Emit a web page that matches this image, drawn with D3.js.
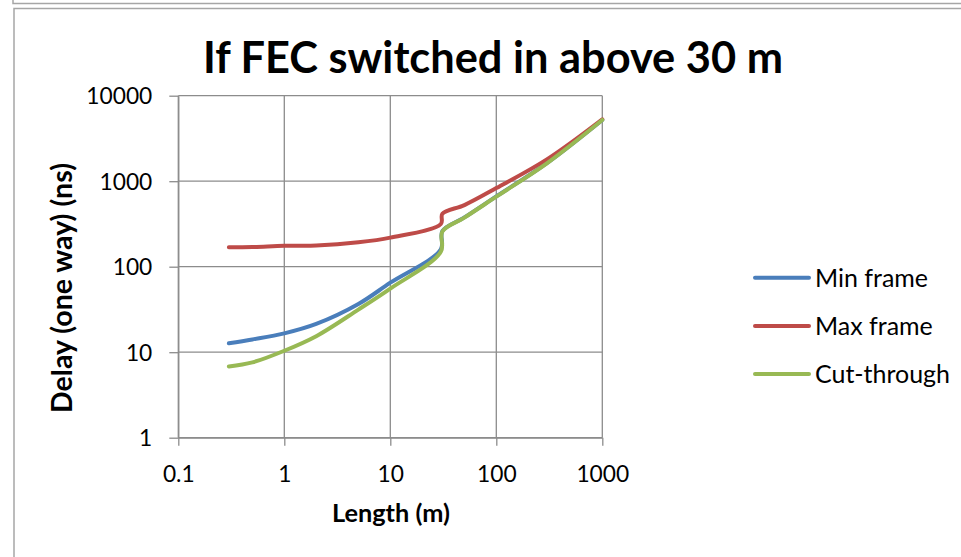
<!DOCTYPE html>
<html>
<head>
<meta charset="utf-8">
<script src="https://cdn.jsdelivr.net/npm/d3@7"></script>
<style>
  html, body { margin: 0; padding: 0; background: #fff; }
  svg { display: block; }
  text { font-family: Lato, "Open Sans", sans-serif; fill: #000; }
</style>
</head>
<body>
<svg id="chart" width="961" height="557"></svg>
<script>
// Cable length (m) at each sample
const lengths = [0.3, 0.5, 1, 2, 5, 10, 30, 31, 50, 100, 300, 1000];

// One-way delay (ns) per frame mode
const minFrame   = [12.7, 14.1, 16.6, 21.4, 36.6, 65, 160, 261, 377, 664, 1625, 5200];
const maxFrame   = [169, 170, 176, 177, 193, 219, 316, 415, 525, 830, 1800, 5300];
const cutThrough = [6.8, 7.6, 10.4, 15.4, 31.5, 55.5, 150, 258, 375, 660, 1620, 5200];

const seriesNames  = ["Min frame", "Max frame", "Cut-through"];
const seriesColors = ["#4A7EBB", "#BE4B48", "#98B954"];

const xTicks = [0.1, 1, 10, 100, 1000];
const yTicks = [1, 10, 100, 1000, 10000];
const xTickLabels = ["0.1", "1", "10", "100", "1000"];
const yTickLabels = ["1", "10", "100", "1000", "10000"];

const titleText = "If FEC switched in above 30 m";
const xTitle = "Length (m)";
const yTitle = "Delay (one way) (ns)";

const series = [minFrame, maxFrame, cutThrough].map((vals, i) => ({
  name: seriesNames[i],
  color: seriesColors[i],
  points: lengths.map((l, j) => [l, vals[j]])
}));

const svg = d3.select("#chart");
const plot = { left: 178.3, right: 602.3, top: 95.7, bottom: 437.7 };
const grey = "#8c8c8c";

const x = d3.scaleLog().domain([0.1, 1000]).range([plot.left, plot.right]);
const y = d3.scaleLog().domain([1, 10000]).range([plot.bottom, plot.top]);

// grow or shrink a text element's font size until it spans the given width
function fitWidth(sel, width) {
  const node = sel.node();
  let fs = parseFloat(sel.attr("font-size"));
  for (let k = 0; k < 3; k++) {
    const w = node.getComputedTextLength();
    if (w > 0) { fs = fs * width / w; sel.attr("font-size", fs.toFixed(2)); }
  }
  return fs;
}

// outer chart frame
svg.append("path")
  .attr("d", "M13,0 V3.5 H961")
  .attr("fill", "none").attr("stroke", "#a6a6a6").attr("stroke-width", 1.5);
svg.append("path")
  .attr("d", "M961,8.5 H14 V557")
  .attr("fill", "none").attr("stroke", "#a6a6a6").attr("stroke-width", 1.5);

// grid
const grid = svg.append("g").attr("stroke", grey).attr("stroke-width", 1.3);
grid.selectAll("line.gx").data(xTicks).join("line")
  .attr("x1", d => x(d)).attr("x2", d => x(d))
  .attr("y1", plot.top).attr("y2", plot.bottom);
grid.selectAll("line.gy").data(yTicks).join("line")
  .attr("x1", plot.left).attr("x2", plot.right)
  .attr("y1", d => y(d)).attr("y2", d => y(d));

// axes
const xAxis = svg.append("g")
  .attr("transform", `translate(0,${plot.bottom})`)
  .call(d3.axisBottom(x).tickValues(xTicks).tickFormat((d, i) => xTickLabels[i])
    .tickSize(8).tickSizeOuter(0));
const yAxis = svg.append("g")
  .attr("transform", `translate(${plot.left},0)`)
  .call(d3.axisLeft(y).tickValues(yTicks).tickFormat((d, i) => yTickLabels[i])
    .tickSize(9).tickSizeOuter(0));
[xAxis, yAxis].forEach(a => {
  a.attr("font-size", null).attr("font-family", null);
  a.selectAll(".domain").attr("stroke", grey).attr("stroke-width", 1.3);
  a.selectAll(".tick line").attr("stroke", grey).attr("stroke-width", 1.3);
  a.selectAll(".tick text").attr("font-size", 22).attr("fill", "#000");
});
// tick labels sized so that "10000" spans its measured width
const widest = yAxis.selectAll(".tick text").filter((d) => d === 10000);
const tickSize = fitWidth(widest, 66);
xAxis.selectAll(".tick text").attr("font-size", tickSize.toFixed(2))
  .attr("dy", "0.36em").attr("y", 36);
yAxis.selectAll(".tick text").attr("font-size", tickSize.toFixed(2))
  .attr("dy", "0.36em").attr("x", -26);

// data lines
const line = d3.line()
  .x(d => x(d[0])).y(d => y(d[1]))
  .curve(d3.curveCatmullRom.alpha(0.5));
svg.append("g").selectAll("path").data(series).join("path")
  .attr("d", d => line(d.points))
  .attr("fill", "none")
  .attr("stroke", d => d.color)
  .attr("stroke-width", 4)
  .attr("stroke-linejoin", "round")
  .attr("stroke-linecap", "round");

// title
const title = svg.append("text")
  .attr("x", 493).attr("y", 73)
  .attr("text-anchor", "middle")
  .attr("font-weight", "bold").attr("font-size", 40)
  .text(titleText);
fitWidth(title, 580);

// axis titles
const xt = svg.append("text")
  .attr("x", 391).attr("y", 521.5)
  .attr("text-anchor", "middle")
  .attr("font-weight", "bold").attr("font-size", 22)
  .text(xTitle);
const axisTitleSize = fitWidth(xt, 118);

const yt = svg.append("text")
  .attr("transform", "translate(72,288) rotate(-90)")
  .attr("text-anchor", "middle")
  .attr("font-weight", "bold").attr("font-size", 22)
  .text(yTitle);
fitWidth(yt, 250);

// legend
const legend = svg.append("g");
const rowsY = [277.7, 326, 374];
series.forEach((s, i) => {
  legend.append("line")
    .attr("x1", 755).attr("x2", 809)
    .attr("y1", rowsY[i]).attr("y2", rowsY[i])
    .attr("stroke", s.color).attr("stroke-width", 4)
    .attr("stroke-linecap", "round");
  const t = legend.append("text")
    .attr("x", 815).attr("y", rowsY[i])
    .attr("dy", "0.36em")
    .attr("font-size", 23)
    .text(s.name);
  if (i === 0) fitWidth(t, 113);
});
const legendSize = legend.select("text").attr("font-size");
legend.selectAll("text").attr("font-size", legendSize);
</script>
</body>
</html>
